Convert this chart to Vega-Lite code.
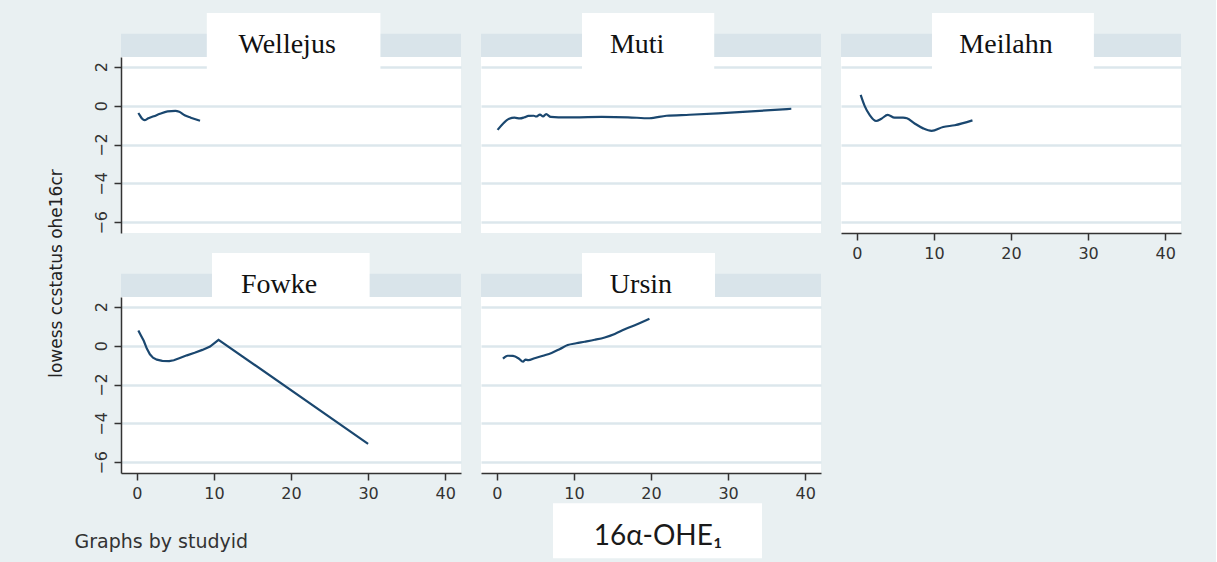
{
  "$schema": "https://vega.github.io/schema/vega-lite/v6.json",
  "background": "#e9f0f2",
  "padding": {"left": 47, "top": 13, "right": 35, "bottom": 4},
  "bounds": "flush",
  "columns": 3,
  "spacing": {"row": 64, "column": 20},
  "data": {"values": [
    {"study":"Wellejus","x":0.2,"y":-0.38},{"study":"Wellejus","x":0.4,"y":-0.5},{"study":"Wellejus","x":0.7,"y":-0.68},{"study":"Wellejus","x":1.0,"y":-0.75},{"study":"Wellejus","x":1.5,"y":-0.65},{"study":"Wellejus","x":2.2,"y":-0.55},{"study":"Wellejus","x":3.0,"y":-0.42},{"study":"Wellejus","x":4.0,"y":-0.3},{"study":"Wellejus","x":5.0,"y":-0.27},{"study":"Wellejus","x":5.5,"y":-0.32},{"study":"Wellejus","x":6.2,"y":-0.5},{"study":"Wellejus","x":7.0,"y":-0.62},{"study":"Wellejus","x":8.2,"y":-0.78},
    {"study":"Muti","x":0.1,"y":-1.25},{"study":"Muti","x":0.8,"y":-0.93},{"study":"Muti","x":1.6,"y":-0.68},{"study":"Muti","x":2.3,"y":-0.62},{"study":"Muti","x":3.0,"y":-0.66},{"study":"Muti","x":3.6,"y":-0.6},{"study":"Muti","x":4.1,"y":-0.53},{"study":"Muti","x":4.8,"y":-0.52},{"study":"Muti","x":5.1,"y":-0.56},{"study":"Muti","x":5.6,"y":-0.46},{"study":"Muti","x":6.0,"y":-0.56},{"study":"Muti","x":6.4,"y":-0.44},{"study":"Muti","x":7.0,"y":-0.58},{"study":"Muti","x":8.0,"y":-0.6},{"study":"Muti","x":10.0,"y":-0.6},{"study":"Muti","x":13.6,"y":-0.58},{"study":"Muti","x":17.0,"y":-0.6},{"study":"Muti","x":19.8,"y":-0.65},{"study":"Muti","x":22.0,"y":-0.52},{"study":"Muti","x":25.0,"y":-0.47},{"study":"Muti","x":28.7,"y":-0.4},{"study":"Muti","x":33.0,"y":-0.3},{"study":"Muti","x":38.2,"y":-0.16},
    {"study":"Meilahn","x":0.5,"y":0.55},{"study":"Meilahn","x":1.0,"y":0.0},{"study":"Meilahn","x":1.7,"y":-0.5},{"study":"Meilahn","x":2.5,"y":-0.79},{"study":"Meilahn","x":3.2,"y":-0.67},{"study":"Meilahn","x":4.0,"y":-0.48},{"study":"Meilahn","x":4.9,"y":-0.62},{"study":"Meilahn","x":6.0,"y":-0.62},{"study":"Meilahn","x":6.5,"y":-0.65},{"study":"Meilahn","x":7.5,"y":-0.92},{"study":"Meilahn","x":8.6,"y":-1.17},{"study":"Meilahn","x":9.7,"y":-1.3},{"study":"Meilahn","x":11.2,"y":-1.1},{"study":"Meilahn","x":12.7,"y":-1.01},{"study":"Meilahn","x":15.0,"y":-0.76},
    {"study":"Fowke","x":0.2,"y":0.78},{"study":"Fowke","x":0.5,"y":0.55},{"study":"Fowke","x":0.9,"y":0.25},{"study":"Fowke","x":1.3,"y":-0.15},{"study":"Fowke","x":1.7,"y":-0.45},{"study":"Fowke","x":2.1,"y":-0.62},{"study":"Fowke","x":2.6,"y":-0.72},{"study":"Fowke","x":3.3,"y":-0.78},{"study":"Fowke","x":4.2,"y":-0.8},{"study":"Fowke","x":4.8,"y":-0.75},{"study":"Fowke","x":5.5,"y":-0.65},{"study":"Fowke","x":6.5,"y":-0.5},{"study":"Fowke","x":7.5,"y":-0.37},{"study":"Fowke","x":8.5,"y":-0.22},{"study":"Fowke","x":9.5,"y":-0.05},{"study":"Fowke","x":10.6,"y":0.3},{"study":"Fowke","x":30.0,"y":-5.05},
    {"study":"Ursin","x":0.8,"y":-0.67},{"study":"Ursin","x":1.4,"y":-0.52},{"study":"Ursin","x":2.1,"y":-0.53},{"study":"Ursin","x":2.8,"y":-0.65},{"study":"Ursin","x":3.4,"y":-0.83},{"study":"Ursin","x":3.7,"y":-0.72},{"study":"Ursin","x":4.1,"y":-0.75},{"study":"Ursin","x":4.9,"y":-0.65},{"study":"Ursin","x":6.0,"y":-0.52},{"study":"Ursin","x":7.1,"y":-0.38},{"study":"Ursin","x":8.2,"y":-0.17},{"study":"Ursin","x":9.2,"y":0.03},{"study":"Ursin","x":10.3,"y":0.12},{"study":"Ursin","x":11.4,"y":0.2},{"study":"Ursin","x":12.7,"y":0.3},{"study":"Ursin","x":14.0,"y":0.42},{"study":"Ursin","x":15.3,"y":0.6},{"study":"Ursin","x":16.6,"y":0.84},{"study":"Ursin","x":18.2,"y":1.1},{"study":"Ursin","x":19.8,"y":1.38}
  ]},
  "concat": [
    {
      "width": 340, "height": 176,
      "layer": [
        {"data": {"values": [{}]}, "mark": {"type": "rect", "fill": "#d9e4ea", "clip": false},
         "encoding": {"x": {"datum": -2.05, "type": "quantitative", "scale": {"domain": [-2.05, 42.05], "nice": false, "zero": false}, "axis": null}, "x2": {"datum": 42.05},
                      "y": {"datum": 2.5, "type": "quantitative", "scale": {"domain": [-6.55, 2.5], "nice": false, "zero": false}}, "y2": {"datum": 3.7}}},
        {"transform": [{"filter": "datum.study === 'Wellejus'"}],
         "mark": {"type": "line", "color": "#1a476f", "strokeWidth": 2.2, "interpolate": "monotone"},
         "encoding": {"x": {"field": "x", "type": "quantitative", "scale": {"domain": [-2.05, 42.05], "nice": false, "zero": false}, "axis": null},
                      "y": {"field": "y", "type": "quantitative", "scale": {"domain": [-6.55, 2.5], "nice": false, "zero": false},
                            "axis": {"values": [-6, -4, -2, 0, 2], "title": null, "grid": true, "labelAngle": -90, "labelAlign": "center", "labelBaseline": "bottom"}}}},
        {"data": {"values": [{}]}, "mark": {"type": "rect", "fill": "white", "clip": false},
         "encoding": {"x": {"datum": 9.08, "type": "quantitative", "scale": {"domain": [-2.05, 42.05], "nice": false, "zero": false}, "axis": null}, "x2": {"datum": 31.6},
                      "y": {"datum": 1.83, "type": "quantitative", "scale": {"domain": [-6.55, 2.5], "nice": false, "zero": false}}, "y2": {"datum": 4.76}}},
        {"data": {"values": [{}]}, "mark": {"type": "text", "font": "Liberation Serif", "fontSize": 28, "color": "#111", "align": "center", "baseline": "alphabetic", "clip": false},
         "encoding": {"x": {"datum": 19.5, "type": "quantitative", "scale": {"domain": [-2.05, 42.05], "nice": false, "zero": false}, "axis": null},
                      "y": {"datum": 2.69, "type": "quantitative", "scale": {"domain": [-6.55, 2.5], "nice": false, "zero": false}},
                      "text": {"value": "Wellejus"}}}
      ]
    },
    {
      "width": 340, "height": 176,
      "layer": [
        {"data": {"values": [{}]}, "mark": {"type": "rect", "fill": "#d9e4ea", "clip": false},
         "encoding": {"x": {"datum": -2.05, "type": "quantitative", "scale": {"domain": [-2.05, 42.05], "nice": false, "zero": false}, "axis": null}, "x2": {"datum": 42.05},
                      "y": {"datum": 2.5, "type": "quantitative", "scale": {"domain": [-6.55, 2.5], "nice": false, "zero": false}}, "y2": {"datum": 3.7}}},
        {"transform": [{"filter": "datum.study === 'Muti'"}],
         "mark": {"type": "line", "color": "#1a476f", "strokeWidth": 2.2, "interpolate": "monotone"},
         "encoding": {"x": {"field": "x", "type": "quantitative", "scale": {"domain": [-2.05, 42.05], "nice": false, "zero": false}, "axis": null},
                      "y": {"field": "y", "type": "quantitative", "scale": {"domain": [-6.55, 2.5], "nice": false, "zero": false},
                            "axis": {"values": [-6, -4, -2, 0, 2], "title": null, "grid": true, "labels": false, "ticks": false, "domain": false}}}},
        {"data": {"values": [{}]}, "mark": {"type": "rect", "fill": "white", "clip": false},
         "encoding": {"x": {"datum": 11.05, "type": "quantitative", "scale": {"domain": [-2.05, 42.05], "nice": false, "zero": false}, "axis": null}, "x2": {"datum": 28.2},
                      "y": {"datum": 1.83, "type": "quantitative", "scale": {"domain": [-6.55, 2.5], "nice": false, "zero": false}}, "y2": {"datum": 4.76}}},
        {"data": {"values": [{}]}, "mark": {"type": "text", "font": "Liberation Serif", "fontSize": 28, "color": "#111", "align": "center", "baseline": "alphabetic", "clip": false},
         "encoding": {"x": {"datum": 18.2, "type": "quantitative", "scale": {"domain": [-2.05, 42.05], "nice": false, "zero": false}, "axis": null},
                      "y": {"datum": 2.69, "type": "quantitative", "scale": {"domain": [-6.55, 2.5], "nice": false, "zero": false}},
                      "text": {"value": "Muti"}}}
      ]
    },
    {
      "width": 340, "height": 176,
      "layer": [
        {"data": {"values": [{}]}, "mark": {"type": "rect", "fill": "#d9e4ea", "clip": false},
         "encoding": {"x": {"datum": -2.05, "type": "quantitative", "scale": {"domain": [-2.05, 42.05], "nice": false, "zero": false}}, "x2": {"datum": 42.05},
                      "y": {"datum": 2.5, "type": "quantitative", "scale": {"domain": [-6.55, 2.5], "nice": false, "zero": false}}, "y2": {"datum": 3.7}}},
        {"transform": [{"filter": "datum.study === 'Meilahn'"}],
         "mark": {"type": "line", "color": "#1a476f", "strokeWidth": 2.2, "interpolate": "monotone"},
         "encoding": {"x": {"field": "x", "type": "quantitative", "scale": {"domain": [-2.05, 42.05], "nice": false, "zero": false},
                            "axis": {"values": [0, 10, 20, 30, 40], "title": null, "grid": false}},
                      "y": {"field": "y", "type": "quantitative", "scale": {"domain": [-6.55, 2.5], "nice": false, "zero": false},
                            "axis": {"values": [-6, -4, -2, 0, 2], "title": null, "grid": true, "labels": false, "ticks": false, "domain": false}}}},
        {"data": {"values": [{}]}, "mark": {"type": "rect", "fill": "white", "clip": false},
         "encoding": {"x": {"datum": 9.75, "type": "quantitative", "scale": {"domain": [-2.05, 42.05], "nice": false, "zero": false}}, "x2": {"datum": 30.75},
                      "y": {"datum": 1.83, "type": "quantitative", "scale": {"domain": [-6.55, 2.5], "nice": false, "zero": false}}, "y2": {"datum": 4.76}}},
        {"data": {"values": [{}]}, "mark": {"type": "text", "font": "Liberation Serif", "fontSize": 28, "color": "#111", "align": "center", "baseline": "alphabetic", "clip": false},
         "encoding": {"x": {"datum": 19.35, "type": "quantitative", "scale": {"domain": [-2.05, 42.05], "nice": false, "zero": false}},
                      "y": {"datum": 2.69, "type": "quantitative", "scale": {"domain": [-6.55, 2.5], "nice": false, "zero": false}},
                      "text": {"value": "Meilahn"}}}
      ]
    },
    {
      "width": 340, "height": 176,
      "layer": [
        {"data": {"values": [{}]}, "mark": {"type": "rect", "fill": "#d9e4ea", "clip": false},
         "encoding": {"x": {"datum": -2.05, "type": "quantitative", "scale": {"domain": [-2.05, 42.05], "nice": false, "zero": false}}, "x2": {"datum": 42.05},
                      "y": {"datum": 2.5, "type": "quantitative", "scale": {"domain": [-6.55, 2.5], "nice": false, "zero": false}}, "y2": {"datum": 3.7}}},
        {"transform": [{"filter": "datum.study === 'Fowke'"}],
         "mark": {"type": "line", "color": "#1a476f", "strokeWidth": 2.2, "interpolate": "linear"},
         "encoding": {"x": {"field": "x", "type": "quantitative", "scale": {"domain": [-2.05, 42.05], "nice": false, "zero": false},
                            "axis": {"values": [0, 10, 20, 30, 40], "grid": false, "title": "Graphs by studyid", "titleX": -47, "titleY": 74, "titleAlign": "left", "titleBaseline": "alphabetic", "titleAngle": 0, "titleFont": "DejaVu Sans", "titleFontSize": 19, "titleFontWeight": "normal", "titleColor": "#333"}},
                      "y": {"field": "y", "type": "quantitative", "scale": {"domain": [-6.55, 2.5], "nice": false, "zero": false},
                            "axis": {"values": [-6, -4, -2, 0, 2], "grid": true, "labelAngle": -90, "labelAlign": "center", "labelBaseline": "bottom",
                                     "title": "lowess ccstatus ohe16cr", "titleX": -65, "titleY": -24, "titleAngle": -90, "titleAlign": "center", "titleBaseline": "middle", "titleFont": "DejaVu Sans", "titleFontSize": 17, "titleFontWeight": "normal", "titleColor": "#222"}}}},
        {"data": {"values": [{}]}, "mark": {"type": "rect", "fill": "white", "clip": false},
         "encoding": {"x": {"datum": 9.75, "type": "quantitative", "scale": {"domain": [-2.05, 42.05], "nice": false, "zero": false}}, "x2": {"datum": 30.2},
                      "y": {"datum": 2.5, "type": "quantitative", "scale": {"domain": [-6.55, 2.5], "nice": false, "zero": false}}, "y2": {"datum": 4.76}}},
        {"data": {"values": [{}]}, "mark": {"type": "text", "font": "Liberation Serif", "fontSize": 28, "color": "#111", "align": "center", "baseline": "alphabetic", "clip": false},
         "encoding": {"x": {"datum": 18.45, "type": "quantitative", "scale": {"domain": [-2.05, 42.05], "nice": false, "zero": false}},
                      "y": {"datum": 2.69, "type": "quantitative", "scale": {"domain": [-6.55, 2.5], "nice": false, "zero": false}},
                      "text": {"value": "Fowke"}}}
      ]
    },
    {
      "width": 340, "height": 176,
      "layer": [
        {"data": {"values": [{}]}, "mark": {"type": "rect", "fill": "#d9e4ea", "clip": false},
         "encoding": {"x": {"datum": -2.05, "type": "quantitative", "scale": {"domain": [-2.05, 42.05], "nice": false, "zero": false}}, "x2": {"datum": 42.05},
                      "y": {"datum": 2.5, "type": "quantitative", "scale": {"domain": [-6.55, 2.5], "nice": false, "zero": false}}, "y2": {"datum": 3.7}}},
        {"transform": [{"filter": "datum.study === 'Ursin'"}],
         "mark": {"type": "line", "color": "#1a476f", "strokeWidth": 2.2, "interpolate": "monotone"},
         "encoding": {"x": {"field": "x", "type": "quantitative", "scale": {"domain": [-2.05, 42.05], "nice": false, "zero": false},
                            "axis": {"values": [0, 10, 20, 30, 40], "title": null, "grid": false}},
                      "y": {"field": "y", "type": "quantitative", "scale": {"domain": [-6.55, 2.5], "nice": false, "zero": false},
                            "axis": {"values": [-6, -4, -2, 0, 2], "title": null, "grid": true, "labels": false, "ticks": false, "domain": false}}}},
        {"data": {"values": [{}]}, "mark": {"type": "rect", "fill": "white", "clip": false},
         "encoding": {"x": {"datum": 11.05, "type": "quantitative", "scale": {"domain": [-2.05, 42.05], "nice": false, "zero": false}}, "x2": {"datum": 28.3},
                      "y": {"datum": 2.5, "type": "quantitative", "scale": {"domain": [-6.55, 2.5], "nice": false, "zero": false}}, "y2": {"datum": 4.76}}},
        {"data": {"values": [{}]}, "mark": {"type": "text", "font": "Liberation Serif", "fontSize": 28, "color": "#111", "align": "center", "baseline": "alphabetic", "clip": false},
         "encoding": {"x": {"datum": 18.7, "type": "quantitative", "scale": {"domain": [-2.05, 42.05], "nice": false, "zero": false}},
                      "y": {"datum": 2.69, "type": "quantitative", "scale": {"domain": [-6.55, 2.5], "nice": false, "zero": false}},
                      "text": {"value": "Ursin"}}},
        {"data": {"values": [{}]}, "mark": {"type": "rect", "fill": "white", "clip": false},
         "encoding": {"x": {"datum": 7.29, "type": "quantitative", "scale": {"domain": [-2.05, 42.05], "nice": false, "zero": false}}, "x2": {"datum": 34.4},
                      "y": {"datum": -10.94, "type": "quantitative", "scale": {"domain": [-6.55, 2.5], "nice": false, "zero": false}}, "y2": {"datum": -8.11}}},
        {"data": {"values": [{}]}, "mark": {"type": "text", "font": "Lato", "fontSize": 28, "color": "#1a1a1a", "align": "center", "baseline": "alphabetic", "clip": false},
         "encoding": {"x": {"datum": 20.9, "type": "quantitative", "scale": {"domain": [-2.05, 42.05], "nice": false, "zero": false}},
                      "y": {"datum": -10.27, "type": "quantitative", "scale": {"domain": [-6.55, 2.5], "nice": false, "zero": false}},
                      "text": {"value": "16α-OHE₁"}}}
      ]
    }
  ],
  "config": {
    "view": {"fill": "white", "stroke": null},
    "axis": {"labelFont": "DejaVu Sans", "labelFontSize": 16, "labelColor": "#333", "domainColor": "#333", "tickColor": "#333", "domainWidth": 1.5, "tickWidth": 1.5, "tickSize": 7, "labelPadding": 5, "gridColor": "#dce7ec", "gridWidth": 2.5, "labelFlush": false, "labelOverlap": false}
  }
}
